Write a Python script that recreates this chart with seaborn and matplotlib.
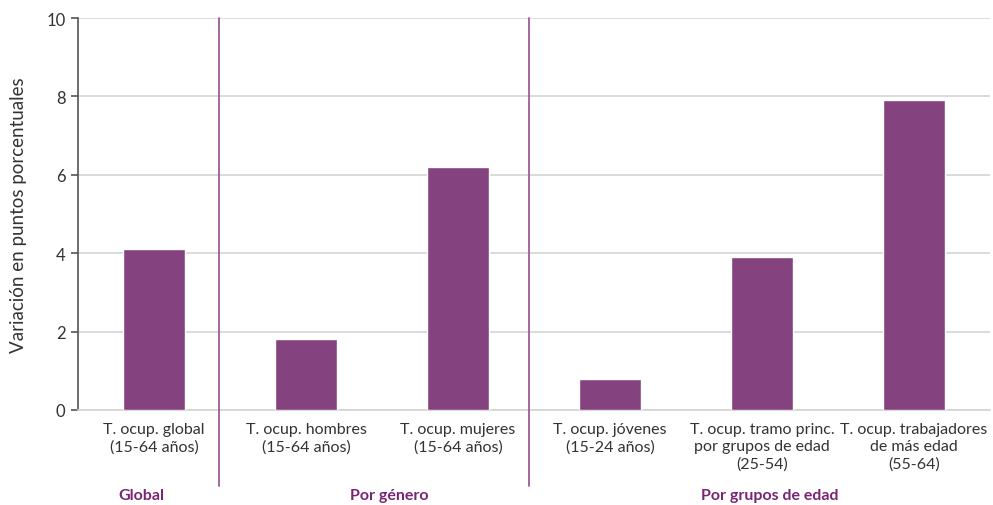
import matplotlib
matplotlib.use("Agg")
import matplotlib.pyplot as plt
import seaborn as sns
import pandas as pd

categorias = [
    "T. ocup. global\n(15-64 años)",
    "T. ocup. hombres\n(15-64 años)",
    "T. ocup. mujeres\n(15-64 años)",
    "T. ocup. jóvenes\n(15-24 años)",
    "T. ocup. tramo princ.\npor grupos de edad\n(25-54)",
    "T. ocup. trabajadores\nde más edad\n(55-64)",
]
variacion = [4.1, 1.8, 6.2, 0.8, 3.9, 7.9]
grupos = ["Global", "Por género", "Por grupos de edad"]
grupo_centros = [-0.08, 1.55, 4.05]
separadores = [0.43, 2.47]

df = pd.DataFrame({"categoria": categorias, "variacion": variacion})

sns.set_theme(style="white")
plt.rcParams["font.family"] = ["Lato", "DejaVu Sans"]

fig = plt.figure(figsize=(9.93, 5.06), dpi=100)
ax = fig.add_axes([78 / 993, 1 - 411 / 506, (990 - 78) / 993, 392 / 506])

purple = "#84437f"
sns.barplot(data=df, x="categoria", y="variacion", color=purple,
            saturation=1, width=0.41, ax=ax, zorder=3)

ax.set_xlim(-0.5, 5.5)
ax.set_ylim(0, 10)
ax.set_yticks([0, 2, 4, 6, 8, 10])
ax.yaxis.grid(True, color="#d4d4d4", linewidth=1.2, zorder=0)
ax.set_axisbelow(True)
for s in ["top", "right"]:
    ax.spines[s].set_visible(False)
ax.spines["bottom"].set_color("#d4d4d4")
ax.spines["bottom"].set_linewidth(1.2)
ax.spines["left"].set_color("#555555")
ax.spines["left"].set_linewidth(1.2)

ax.tick_params(axis="y", left=True, length=5, width=1.2, color="#555555",
               labelsize=12, labelcolor="#333333", pad=4)
ax.tick_params(axis="x", bottom=False, labelsize=11.5, labelcolor="#333333", pad=3)
for lbl in ax.get_xticklabels():
    lbl.set_linespacing(1.25)
ax.set_xlabel("")
ax.set_ylabel("Variación en puntos porcentuales", fontsize=13.5,
              color="#333333")
ax.yaxis.set_label_coords(-0.056, 0.5)

for xs in separadores:
    ax.plot([xs, xs], [-0.194, 1.0], transform=ax.get_xaxis_transform(),
            color="#9c5c99", linewidth=1.3, clip_on=False, zorder=4)

for g, xc in zip(grupos, grupo_centros):
    ax.text(xc, -0.218, g, transform=ax.get_xaxis_transform(), ha="center",
            va="center", fontsize=11.5, fontweight="bold", color="#7a2475")

fig.savefig("out.png", dpi=100)
